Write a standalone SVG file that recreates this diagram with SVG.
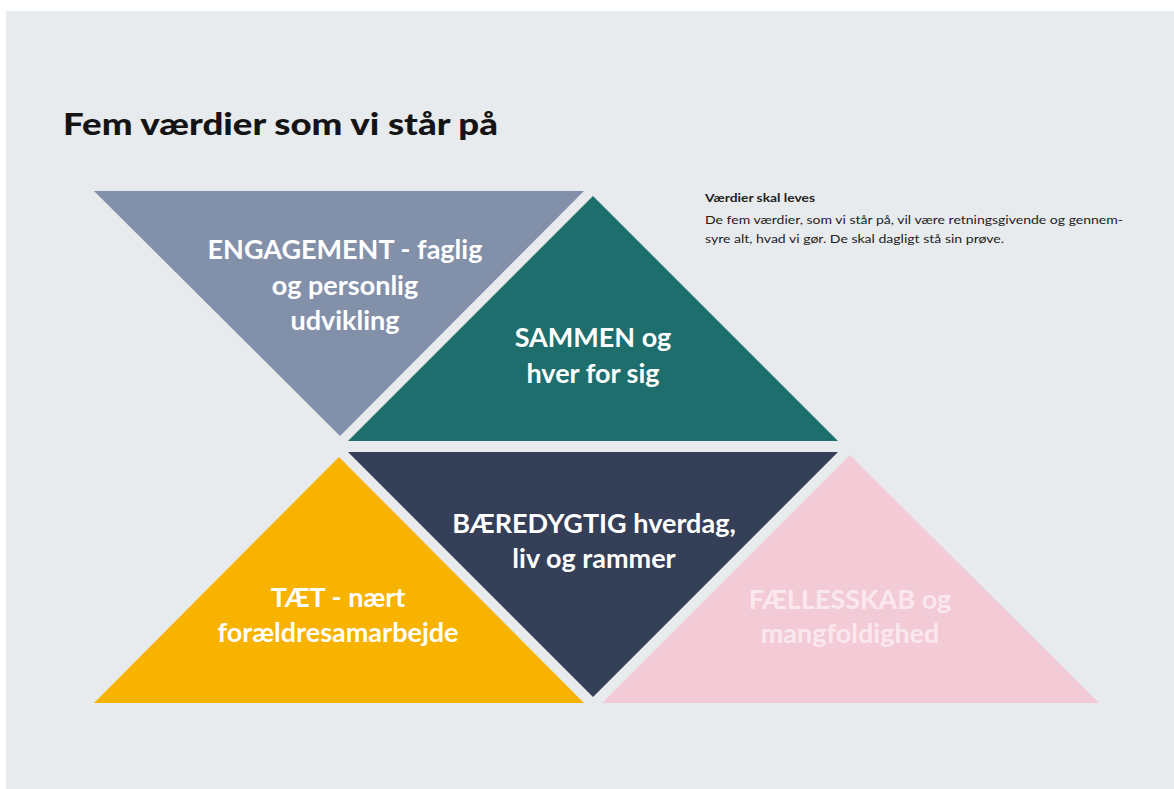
<svg xmlns="http://www.w3.org/2000/svg" width="1174" height="789" viewBox="0 0 1174 789">
<style>
.lbl{font-family:Lato,"Open Sans","Liberation Sans",sans-serif;font-weight:700;font-size:27px;fill:#ffffff;text-anchor:middle}
.pk{fill:#fbe8ee}
.title{font-family:Lato,"Liberation Sans",sans-serif;font-weight:900;font-size:31px;fill:#141414}
.side{font-family:Lato,"Liberation Sans",sans-serif;font-size:12px;fill:#222}
</style>
<rect x="0" y="0" width="1174" height="789" fill="#ffffff"/>
<rect x="6" y="11" width="1168" height="778" fill="#e8ebee"/>
<text class="title" x="63" y="135" textLength="435" lengthAdjust="spacingAndGlyphs">Fem værdier som vi står på</text>
<g id="side-text">
<text class="side" x="705" y="202" font-weight="700" font-size="13px" textLength="110" lengthAdjust="spacingAndGlyphs">Værdier skal leves</text>
<text class="side" x="705" y="224" textLength="418" lengthAdjust="spacingAndGlyphs">De fem værdier, som vi står på, vil være retningsgivende og gennem-</text>
<text class="side" x="705" y="243" textLength="299" lengthAdjust="spacingAndGlyphs">syre alt, hvad vi gør. De skal dagligt stå sin prøve.</text>
</g>
<g id="engagement">
<polygon points="94,191 584,191 340,436" fill="#8390aa"/>
<text class="lbl" x="345" y="259">ENGAGEMENT - faglig</text>
<text class="lbl" x="345" y="295">og personlig</text>
<text class="lbl" x="345" y="330">udvikling</text>
</g>
<g id="sammen">
<polygon points="593,196 348,441 838,441" fill="#1e6e6d"/>
<text class="lbl" x="593" y="347">SAMMEN og</text>
<text class="lbl" x="593" y="383">hver for sig</text>
</g>
<g id="taet">
<polygon points="339,457 94,703 584,703" fill="#f8b200"/>
<text class="lbl" x="338" y="607">TÆT - nært</text>
<text class="lbl" x="338" y="642">forældresamarbejde</text>
</g>
<g id="baeredygtig">
<polygon points="348,452 838,452 593,697" fill="#363f58"/>
<text class="lbl" x="594" y="533">BÆREDYGTIG hverdag,</text>
<text class="lbl" x="594" y="568">liv og rammer</text>
</g>
<g id="faellesskab">
<polygon points="850,455 602,703 1099,703" fill="#f2cbd6"/>
<text class="lbl pk" x="850" y="609">FÆLLESSKAB og</text>
<text class="lbl pk" x="850" y="643">mangfoldighed</text>
</g>
<g id="connectors"/>
</svg>
